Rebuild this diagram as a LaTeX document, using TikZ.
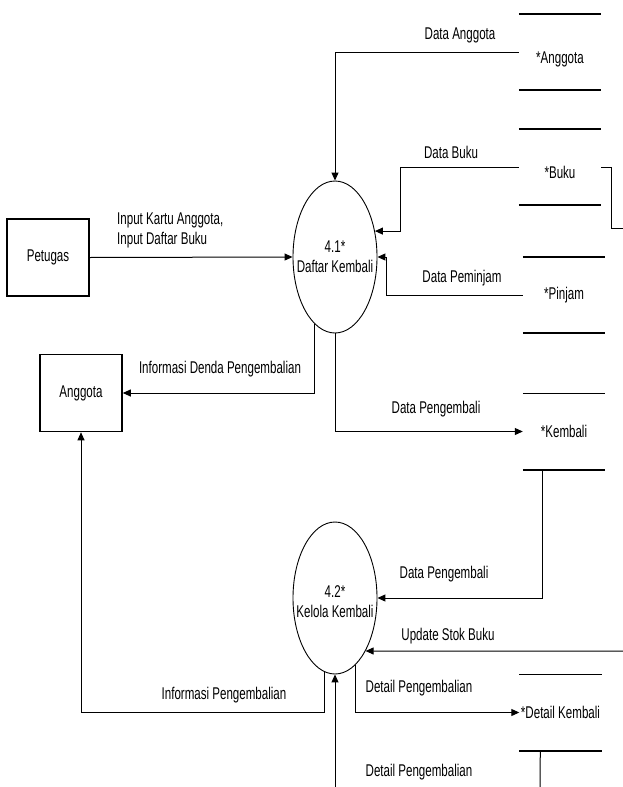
\documentclass[tikz,border=0pt]{standalone}
\usepackage{fontspec}
\setmainfont{Liberation Sans}[FakeStretch=0.68]
\usetikzlibrary{arrows.meta,shapes.geometric}

\begin{document}
\begin{tikzpicture}[x=1pt, y=-1pt,
  font=\fontsize{17}{20}\selectfont,
  entity/.style={rectangle, draw=black, line width=1.6pt, minimum width=82pt, minimum height=77pt, inner sep=0pt},
  proc/.style={ellipse, draw=black, line width=0.9pt, minimum width=84pt, minimum height=152pt, inner sep=0pt},
  store/.style={minimum width=82pt, minimum height=76pt, inner sep=0pt},
  lowtext/.style={text height=22pt, text depth=0pt},
  storeline/.style={line width=1.6pt},
  flow/.style={line width=1pt, -{Triangle[length=8pt, width=7pt]}},
  plain/.style={line width=1pt},
  lbl/.style={inner sep=0pt}]
\useasboundingbox (0,0) rectangle (623,787);

% external entities
\node [entity] (petugas) at (48,257.5) {Petugas};
\node [entity] (anggota) at (81,393) {Anggota};

% processes
\node [proc] (p41) at (335,257) {};
\node [align=center] (p41txt) at (p41.center) {4.1*\\Daftar Kembali};
\node [proc] (p42) at (335,598) {};
\node [align=center] (p42txt) at ([yshift=-4pt]p42.center) {4.2*\\Kelola Kembali};

% data stores
\node [store, lowtext] (sAnggota) at (560,52) {*Anggota};
\node [store, lowtext] (sBuku) at (560,167) {*Buku};
\node [store] (sPinjam) at (564,295) {*Pinjam};
\node [store] (sKembali) at (564,431.5) {*Kembali};
\node [store] (sDetail) at (560.5,712.5) {*Detail Kembali};
\foreach \s in {sAnggota,sBuku,sPinjam,sKembali,sDetail}
  \draw [storeline] (\s.north west) -- (\s.north east) (\s.south west) -- (\s.south east);

% open ends at the border
\coordinate (bukuOut) at (623,228);
\coordinate (stokIn) at (623,651);
\coordinate (detIn) at (335,787);
\coordinate (detOut) at (540,787);

% flows
\draw [flow] (petugas.east) -- (p41.west);
\draw [flow] (sAnggota.west) -| (p41.north);
\draw [flow] (sBuku.west) -- ++(-118,0) |- (p41.33);
\draw [flow] (sPinjam.west) -- ++(-136,0) |- (p41.east);
\draw [flow] (p41.253) |- (anggota.east);
\draw [flow] (p41.south) |- (sKembali.west);
\draw [flow] ([xshift=20pt]sKembali.south west) |- (p42.east);
\draw [flow] (stokIn) -- (p42.-60);
\draw [flow] (p42.262) -- ++(0,40) -| (anggota.south);
\draw [flow] (p42.287) |- (sDetail.west);
\draw [flow] (detIn) -- (p42.south);
\draw [plain] (sBuku.east) -- ++(10,0) |- (bukuOut);
\draw [plain] ([xshift=21pt]sDetail.south west) -- (detOut);

% flow labels
\node [lbl, align=left, anchor=west] (lInput) at (117,230) {Input Kartu Anggota,\\Input Daftar Buku};
\node [lbl] (lAnggota) at (460,35) {Data Anggota};
\node [lbl] (lBuku) at (451,152) {Data Buku};
\node [lbl] (lPinjam) at (462,278) {Data Peminjam};
\node [lbl] (lDenda) at (220,369) {Informasi Denda Pengembalian};
\node [lbl] (lKembali) at (436,409) {Data Pengembali};
\node [lbl] (lKembali2) at (444,574) {Data Pengembali};
\node [lbl] (lStok) at (448,636) {Update Stok Buku};
\node [lbl] (lDetail) at (419,688) {Detail Pengembalian};
\node [lbl] (lInfo) at (224,695) {Informasi Pengembalian};
\node [lbl] (lDetail2) at (419,772) {Detail Pengembalian};
\end{tikzpicture}
\end{document}
